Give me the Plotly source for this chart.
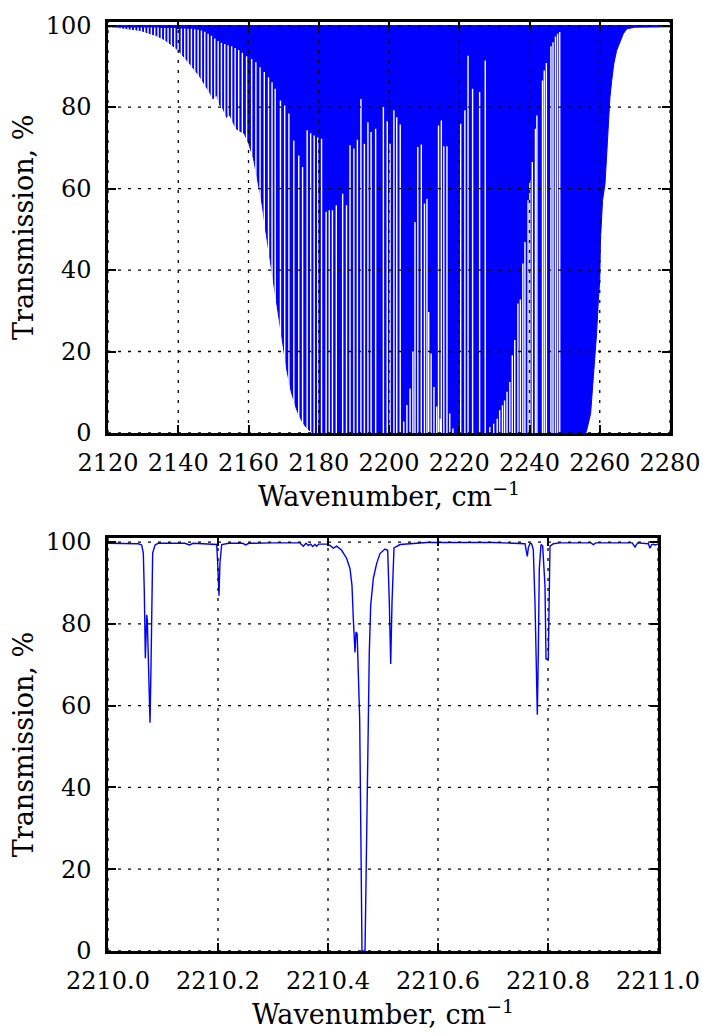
import plotly.graph_objects as go

# ---------------- top panel data ----------------
# lower envelope of the absorption (line-centre transmission), %
env_nu = [2120.0, 2120.5, 2121.4, 2122.4, 2123.3, 2124.3, 2125.2, 2126.2, 2127.1, 2128.1,
          2129.0, 2130.0, 2130.9, 2131.9, 2132.8, 2133.8, 2134.7, 2135.7, 2136.6, 2137.6,
          2138.5, 2139.5, 2140.4, 2141.4, 2142.3, 2143.3, 2144.2, 2145.2, 2146.1, 2147.1,
          2148.0, 2149.0, 2149.9, 2150.9, 2151.8, 2152.8, 2153.7, 2154.7, 2155.7, 2156.7,
          2157.7, 2158.8, 2160.1, 2161.5, 2162.7, 2163.9, 2165.1, 2166.2, 2167.15, 2168.35,
          2169.7, 2170.9, 2172.2, 2173.6, 2174.85, 2176.05, 2177.25, 2178.3, 2256.0, 2256.4,
          2257.4, 2258.1, 2258.6, 2259.1, 2259.6, 2260.0, 2260.2, 2260.8, 2261.5, 2262.0,
          2262.4, 2262.9, 2263.4, 2264.0, 2264.8, 2265.8, 2266.7, 2267.7, 2270.0, 2280.0]
env_t = [99.7, 99.7, 99.6, 99.6, 99.5, 99.4, 99.3, 99.2, 99.1, 99.0,
         98.8, 98.6, 98.4, 98.1, 97.8, 97.5, 97.2, 96.7, 96.2, 95.6,
         95.0, 94.3, 93.5, 92.6, 91.6, 90.6, 89.6, 88.6, 87.5, 86.1,
         85.0, 83.5, 82.0, 83.0, 80.5, 79.5, 77.5, 78.0, 76.0, 74.5,
         74.0, 73.5, 71.0, 67.0, 61.5, 56.0, 48.5, 42.0, 37.0, 30.0,
         22.0, 15.5, 10.0, 6.0, 3.5, 1.8, 0.7, 0.0, 0.0, 1.1,
         4.8, 12.2, 18.7, 24.4, 32.6, 37.5, 47.3, 57.1, 61.2, 69.4,
         75.1, 82.4, 86.5, 90.6, 93.9, 96.3, 98.0, 99.2, 99.6, 99.7]

# transmission maxima between lines (white gaps reaching up from 0), %
gap_nu = [2120.95, 2121.9, 2122.85, 2123.8, 2124.75, 2125.7, 2126.65, 2127.6, 2128.55, 2129.5,
          2130.45, 2131.4, 2132.35, 2133.3, 2134.25, 2135.2, 2136.15, 2137.1, 2138.05, 2139.0,
          2139.95, 2140.9, 2141.85, 2142.8, 2143.75, 2144.7, 2145.65, 2146.6, 2147.55, 2148.5,
          2149.45, 2150.4, 2151.35, 2152.3, 2153.25, 2154.2, 2155.2, 2156.2, 2157.2, 2158.25,
          2159.45, 2160.9, 2162.1, 2163.3, 2164.5, 2165.7, 2166.7, 2167.6, 2169.1, 2170.3,
          2171.5, 2172.9, 2174.3, 2175.4, 2176.7, 2177.7, 2178.7, 2179.7, 2180.8, 2182.1,
          2183.0, 2183.9, 2185.0, 2186.8, 2187.9, 2188.9, 2190.0, 2191.0, 2192.0, 2193.0,
          2194.0, 2194.9, 2196.2, 2198.4, 2199.5, 2200.3, 2201.4, 2202.2, 2203.2, 2204.2,
          2205.1, 2206.0, 2206.8, 2207.4, 2208.2, 2209.2, 2210.1, 2210.8, 2211.3, 2212.0,
          2212.8, 2213.6, 2214.1, 2214.6, 2214.9, 2215.6, 2216.5, 2217.3, 2218.2, 2220.4,
          2221.6, 2222.5, 2223.8, 2225.8, 2227.4, 2228.7, 2229.8, 2230.8, 2231.5, 2232.3,
          2232.9, 2233.6, 2234.4, 2235.1, 2235.8, 2236.7, 2237.4, 2238.1, 2238.7, 2239.6,
          2240.1, 2240.8, 2241.7, 2242.1, 2243.7, 2244.2, 2244.8, 2246.1, 2246.7, 2247.4,
          2248.0, 2248.6]
gap_t = [99.5, 99.5, 99.5, 99.5, 99.5, 99.5, 99.5, 99.5, 99.5, 99.5,
         99.5, 99.5, 99.5, 99.5, 99.5, 99.4, 99.4, 99.4, 99.4, 99.4,
         99.3, 99.3, 99.3, 99.2, 99.2, 99.1, 99.0, 98.8, 98.5, 98.0,
         97.5, 96.8, 96.2, 95.8, 95.5, 95.2, 94.9, 94.5, 94.0, 93.3,
         92.5, 91.8, 91.0, 89.8, 88.6, 87.3, 86.1, 84.5, 81.6, 80.4,
         78.4, 71.8, 68.1, 65.3, 74.3, 73.6, 73.0, 72.6, 72.2, 54.3,
         54.7, 54.7, 55.9, 58.7, 55.9, 70.6, 69.8, 72.0, 82.0, 71.0,
         76.3, 73.9, 74.7, 80.0, 76.5, 71.0, 79.2, 77.5, 75.7, 2.8,
         6.9, 10.9, 20.0, 51.8, 70.2, 70.8, 56.3, 57.5, 29.7, 19.5,
         11.3, 6.5, 75.5, 3.5, 76.7, 70.4, 70.4, 4.8, 1.1, 75.9,
         79.2, 92.6, 84.5, 83.7, 91.4, 1.5, 2.3, 3.5, 5.6, 6.8,
         8.0, 10.1, 12.5, 19.1, 22.8, 31.8, 32.8, 41.6, 46.9, 57.1,
         62.0, 66.5, 74.7, 77.9, 86.5, 89.0, 90.8, 94.9, 95.9, 97.3,
         98.0, 98.4]

# ---------------- bottom panel data ----------------
bot_nu = [2210.000, 2210.030, 2210.055, 2210.0612, 2210.0642, 2210.0660, 2210.0679, 2210.0690,
          2210.0703, 2210.0715, 2210.0740, 2210.0764, 2210.0780, 2210.0794, 2210.0812, 2210.0855,
          2210.0915, 2210.140, 2210.148, 2210.155, 2210.1976, 2210.1994, 2210.2018, 2210.2036,
          2210.2067, 2210.220, 2210.245, 2210.2503, 2210.256, 2210.300, 2210.349, 2210.3551,
          2210.360, 2210.3642, 2210.3685, 2210.3721, 2210.3764, 2210.3794, 2210.383, 2210.3976,
          2210.4036, 2210.4097, 2210.4158, 2210.4248, 2210.434, 2210.440, 2210.4436, 2210.4460,
          2210.4491, 2210.4509, 2210.4530, 2210.4558, 2210.4576, 2210.4600, 2210.4618, 2210.4673,
          2210.4700, 2210.4733, 2210.4751, 2210.4776, 2210.4824, 2210.4885, 2210.4945, 2210.5036,
          2210.5085, 2210.5115, 2210.5140, 2210.5164, 2210.5200, 2210.5309, 2210.5612, 2210.5794,
          2210.700, 2210.7582, 2210.7612, 2210.7624, 2210.7642, 2210.7673, 2210.7703, 2210.7733,
          2210.7764, 2210.7794, 2210.7806, 2210.7824, 2210.7842, 2210.7873, 2210.7903, 2210.7945,
          2210.7964, 2210.8006, 2210.8018, 2210.8036, 2210.8097, 2210.8218, 2210.878, 2210.8824,
          2210.887, 2210.953, 2210.9582, 2210.963, 2210.9824, 2210.9855, 2210.9885, 2210.9915,
          2210.9945, 2211.000]
bot_t = [99.7, 99.7, 99.6, 99.3, 97.3, 88.0, 71.6, 76.0,
         82.2, 81.0, 65.0, 55.8, 68.0, 81.0, 97.3, 99.3,
         99.7, 99.7, 99.3, 99.7, 99.4, 95.0, 86.9, 95.0,
         99.4, 99.7, 99.7, 99.3, 99.7, 99.8, 99.8, 99.0,
         99.7, 99.2, 99.5, 98.9, 99.4, 99.0, 99.5, 99.5,
         99.2, 98.5, 99.0, 98.0, 96.0, 93.5, 89.4, 81.3,
         73.0, 78.0, 77.6, 64.9, 56.7, 25.0, 0.0, 0.0,
         30.0, 56.7, 73.1, 84.5, 91.1, 94.8, 97.2, 98.3,
         98.0, 85.3, 70.2, 85.3, 98.6, 99.4, 99.6, 99.9,
         99.9, 99.6, 97.3, 96.5, 98.6, 99.7, 99.6, 98.1,
         85.0, 64.6, 57.8, 73.1, 93.5, 99.4, 99.0, 89.4,
         71.4, 71.4, 89.0, 99.0, 99.6, 99.8, 99.8, 99.4,
         99.8, 99.8, 98.8, 99.8, 99.6, 98.5, 99.4, 99.5,
         99.3, 99.5]

top_xticks = [2120, 2140, 2160, 2180, 2200, 2220, 2240, 2260, 2280]
bot_xticks = [2210.0, 2210.2, 2210.4, 2210.6, 2210.8, 2211.0]
bot_xlabels = ["2210.0", "2210.2", "2210.4", "2210.6", "2210.8", "2211.0"]
yticks = [0, 20, 40, 60, 80, 100]
top_xrange = [2120, 2280]
bot_xrange = [2210.0, 2211.0]
yrange = [0, 101]

BLUE = "#0000ff"
FONT = "DejaVu Serif"
W, H = 703, 1034

fig = go.Figure()

# absorption band: filled between 100 % and the line-centre envelope
fig.add_trace(go.Scatter(
    x=env_nu + env_nu[::-1],
    y=env_t + [100] * len(env_nu),
    fill="toself", fillcolor=BLUE, mode="lines",
    line=dict(color=BLUE, width=1), xaxis="x", yaxis="y",
    hoverinfo="skip", showlegend=False))

# gaps between lines
gx, gy = [], []
for n, t in zip(gap_nu, gap_t):
    gx += [n, n, None]
    gy += [0, t, None]
fig.add_trace(go.Scatter(x=gx, y=gy, mode="lines",
                         line=dict(color="white", width=1.4),
                         xaxis="x", yaxis="y", hoverinfo="skip", showlegend=False))

fig.add_trace(go.Scatter(x=bot_nu, y=bot_t, mode="lines",
                         line=dict(color=BLUE, width=1.4),
                         xaxis="x2", yaxis="y2", showlegend=False))

# dotted grid drawn above the data
grid = dict(color="black", width=1.3, dash="3px,7px")
shapes = []
for xr, yr, xt in (("x", "y", top_xticks), ("x2", "y2", bot_xticks)):
    x0, x1 = (top_xrange if xr == "x" else bot_xrange)
    for v in xt:
        shapes.append(dict(type="line", xref=xr, yref=yr, x0=v, x1=v, y0=yrange[0], y1=yrange[1],
                           line=grid, layer="above"))
    for v in yticks:
        shapes.append(dict(type="line", xref=xr, yref=yr, x0=x0, x1=x1, y0=v, y1=v,
                           line=grid, layer="above"))

tickfont = dict(family=FONT, size=24, color="black")
titlefont = dict(family=FONT, size=27, color="black")
axis_common = dict(showline=True, linecolor="black", linewidth=2.5, mirror="ticks",
                   ticks="inside", ticklen=8, tickwidth=1.5, tickcolor="black",
                   showgrid=False, zeroline=False, tickfont=tickfont, automargin=False)

fig.update_layout(
    width=W, height=H, margin=dict(l=0, r=0, t=0, b=0, autoexpand=False),
    paper_bgcolor="white", plot_bgcolor="white",
    font=dict(family=FONT, size=24, color="black"),
    shapes=shapes,
    xaxis=dict(domain=[108 / W, 670 / W], range=top_xrange, tickvals=top_xticks,
               anchor="y", ticklabelstandoff=6,
               title=dict(text="Wavenumber, cm<sup>\u22121</sup>", font=titlefont, standoff=2),
               **axis_common),
    yaxis=dict(domain=[1 - 433 / H, 1 - 21.5 / H], range=yrange, tickvals=yticks,
               anchor="x", ticklabelstandoff=9,
               title=dict(text="Transmission, %", font=titlefont, standoff=5),
               **axis_common),
    xaxis2=dict(domain=[108 / W, 658 / W], range=bot_xrange, tickvals=bot_xticks,
                ticktext=bot_xlabels, anchor="y2", ticklabelstandoff=6,
                title=dict(text="Wavenumber, cm<sup>\u22121</sup>", font=titlefont, standoff=2),
                **axis_common),
    yaxis2=dict(domain=[1 - 951 / H, 1 - 538 / H], range=yrange, tickvals=yticks,
                anchor="x2", ticklabelstandoff=9,
                title=dict(text="Transmission, %", font=titlefont, standoff=5),
                **axis_common),
)

fig.write_html("out.html")
